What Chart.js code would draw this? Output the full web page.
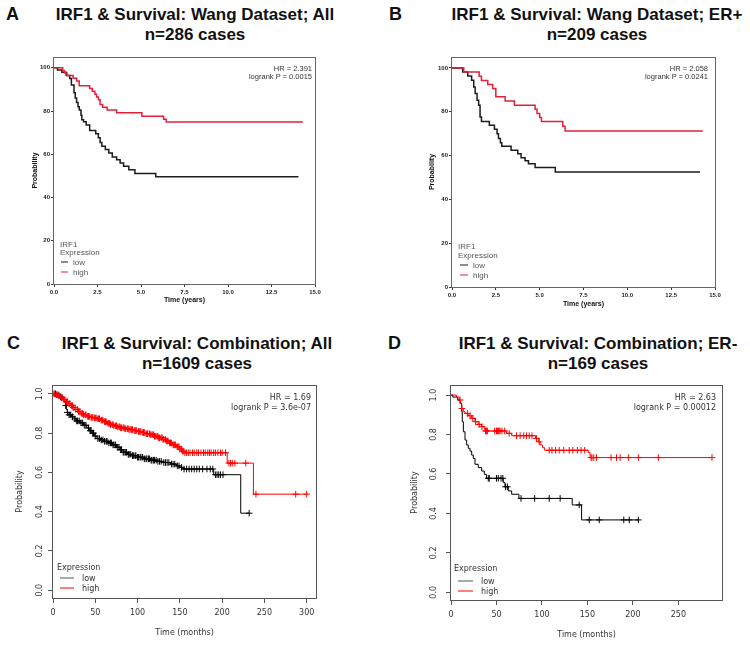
<!DOCTYPE html>
<html><head><meta charset="utf-8">
<script src="https://cdn.jsdelivr.net/npm/chart.js@4/dist/chart.umd.min.js"></script>
<style>
body{margin:0;width:750px;height:645px;position:relative;background:#fff;overflow:hidden;font-family:"Liberation Sans",Arial,sans-serif;}
.t{position:absolute;white-space:nowrap;}
.ttl{position:absolute;width:400px;text-align:center;font-weight:bold;font-size:17px;line-height:20px;color:#111;}
.let{position:absolute;font-weight:bold;font-size:18px;line-height:20px;color:#111;}
canvas{position:absolute;}
</style></head><body>
<div class="let" style="left:6px;top:4px">A</div>
<div class="ttl" style="left:-5px;top:5px">IRF1 &amp; Survival: Wang Dataset; All<br>n=286 cases</div>
<div class="let" style="left:389px;top:4px">B</div>
<div class="ttl" style="left:397px;top:5px">IRF1 &amp; Survival: Wang Dataset; ER+<br>n=209 cases</div>
<div class="let" style="left:7px;top:333px">C</div>
<div class="ttl" style="left:-3px;top:334px">IRF1 &amp; Survival: Combination; All<br>n=1609 cases</div>
<div class="let" style="left:388px;top:333px">D</div>
<div class="ttl" style="left:398px;top:334px">IRF1 &amp; Survival: Combination; ER-<br>n=169 cases</div>
<canvas id="cA"></canvas><canvas id="cB"></canvas><canvas id="cC"></canvas><canvas id="cD"></canvas>
<script>
// ---- Panel A (Wang, All) : time in years, survival in %
const aLowT  = [0,0.2,0.45,0.7,0.9,1.0,1.15,1.22,1.3,1.38,1.45,1.55,1.6,1.7,1.85,2.05,2.4,2.55,2.65,2.75,2.95,3.15,3.35,3.6,3.8,4.0,4.3,4.65,5.85,14.05];
const aLowS  = [100,99,98,96.5,95,92,88.5,86,84,82,80.5,78,76,75,73.5,71,69.5,67.7,65.5,63.7,62.2,60.6,58.8,57.5,56,54.5,52.9,51.1,49.6,49.6];
const aHighT = [0,0.5,0.6,0.75,1.1,1.3,1.45,2.05,2.2,2.35,2.45,2.55,2.65,2.8,3.05,3.6,5.05,6.3,6.45,14.3];
const aHighS = [100,98.8,97.6,96.4,95.2,93.9,91.7,90.4,89.1,87.8,86.5,85.2,83.0,81.8,80.5,79.2,77.6,76.2,74.9,74.9];
// ---- Panel B (Wang, ER+)
const bLowT  = [0,0.61,0.9,1.12,1.24,1.32,1.43,1.52,1.6,1.68,2.13,2.42,2.57,2.65,2.76,2.84,3.37,3.75,3.94,4.17,4.36,4.74,5.89,14.15];
const bLowS  = [100,98.2,96.3,94.4,91.3,88.3,85.2,83.0,77.6,75.6,73.8,72.0,70.0,67.8,65.9,64.2,62.4,60.8,59.0,57.6,56.3,54.6,52.5,52.5];
const bHighT = [0,0.67,1.55,1.68,2.04,2.32,2.5,3.03,3.56,4.74,4.85,5.0,5.1,6.32,6.45,14.3];
const bHighS = [100,98.1,96.2,94.3,92.5,90.6,86.8,84.9,83.0,81.1,79.2,77.4,75.5,73.4,71.2,71.2];
// ---- Panel C (Combination, All) : time in months, survival probability
const cLowT  = [0,4,8,11,13,15,16,17,19,22,25,28,32,36,40,43,46,49,52,56,60,65,70,75,79,83,88,93,100,107,115,123,131,139,146,150,153,190,222,232];
const cLowS  = [1.0,0.995,0.985,0.975,0.96,0.94,0.92,0.905,0.893,0.883,0.872,0.862,0.852,0.84,0.826,0.812,0.80,0.785,0.772,0.765,0.758,0.75,0.74,0.728,0.715,0.702,0.692,0.685,0.677,0.669,0.662,0.656,0.65,0.642,0.633,0.625,0.617,0.588,0.392,0.392];
const cHighT = [0,3,6,9,12,15,18,21,24,27,30,33,36,40,44,48,52,56,60,64,68,72,76,80,85,90,95,100,105,110,115,120,125,130,134,138,142,146,150,153,155,206,237,300];
const cHighS = [1.0,0.995,0.99,0.98,0.97,0.96,0.95,0.94,0.93,0.92,0.91,0.90,0.893,0.885,0.88,0.877,0.873,0.866,0.858,0.85,0.843,0.837,0.832,0.827,0.822,0.818,0.813,0.808,0.803,0.797,0.792,0.784,0.776,0.768,0.76,0.75,0.74,0.73,0.718,0.708,0.70,0.647,0.489,0.489];
const cLowCens  = [3,6,9,15,17,19,21,23,26,28,29,31,33,35,37,39,42,44,45,47,48,50,53,55,57,59,61,63,64,66,68,69,71,72,74,76,78,80,81,83,84,86,87,89,90,92,94,95,97,98,100,101,103,104,106,108,110,111,113,114,116,117,119,120,122,124,126,128,131,133,135,137,140,142,144,147,149,152,155,158,161,164,167,170,173,177,182,186,189,192,194,196,198,201,232];
const cHighCens = [1,2,4,5,7,8,10,11,13,14,16,17,19,20,22,23,24,26,27,29,30,31,32,34,35,36,38,39,41,42,43,45,46,47,49,50,51,53,54,55,57,58,59,61,62,63,65,66,67,68,70,71,72,74,75,76,78,79,80,81,83,84,85,86,88,89,90,92,93,94,96,97,98,99,101,102,103,104,106,107,108,110,111,112,114,115,116,118,119,120,121,123,124,125,126,128,129,130,131,133,134,135,136,138,139,140,142,143,144,145,147,148,149,150,152,153,154,156,158,160,162,165,167,170,172,175,178,180,183,185,187,190,192,195,198,200,204,208,210,212,215,228,240,287,300];
// ---- Panel D (Combination, ER-)
const dLowT  = [0,2,7.3,9.9,11.7,12.4,13.6,15.4,17.2,19,20.9,22.7,24.5,26.4,30,33.7,36.6,39,57.5,59.3,63,66.7,74.7,133.3,143.6,206];
const dLowS  = [1.0,0.99,0.975,0.958,0.916,0.865,0.814,0.772,0.747,0.73,0.716,0.696,0.679,0.649,0.632,0.615,0.598,0.578,0.557,0.535,0.514,0.497,0.476,0.443,0.367,0.367];
const dHighT = [0,6,9,10.5,11.7,13.6,15.4,19,22.7,26.4,30,33.7,36.6,38,61,66.7,93,96,98,100.7,103,151,153,287];
const dHighS = [1.0,0.99,0.975,0.958,0.932,0.916,0.907,0.895,0.882,0.865,0.851,0.84,0.826,0.818,0.806,0.794,0.78,0.763,0.747,0.733,0.72,0.708,0.683,0.683];
const dLowCens  = [41,42,50,52,55,57,60,62,77,92,108,120,141,152,163,190,196,206];
const dHighCens = [10,12,18,21,24,27,31,34,38,39,40,48,50,51,52,53,54,56,59,64,72,76,80,83,86,89,94,97,108,111,115,119,124,130,134,139,143,147,154,155,157,160,176,182,186,195,206,228,287];
// ---- tick values
const abYTicks = [0,20,40,60,80,100];
const abXTicks = [0,2.5,5,7.5,10,12.5,15];
const cdYTicks = [0,0.2,0.4,0.6,0.8,1.0];
const cXTicks  = [0,50,100,150,200,250,300];
const dXTicks  = [0,50,100,150,200,250];

function pts(T,S){return T.map((t,i)=>({x:t,y:S[i]}));}
function stepAt(T,S,t){let v=S[0];for(let i=0;i<T.length;i++){if(T[i]<=t)v=S[i];}return v;}
function cens(T,S,C){return C.map(c=>({x:c,y:stepAt(T,S,c)}));}

const framePlugin={id:'frame',beforeDatasetsDraw(chart,args,opts){const {ctx,chartArea:a}=chart;ctx.save();ctx.strokeStyle=opts.color||'#555';ctx.lineWidth=1;ctx.strokeRect(Math.round(a.left)-0.5,Math.round(a.top)+0.5,Math.round(a.right-a.left)+1,Math.round(a.bottom-a.top));ctx.restore();}};

function makeChart(id,box,area,o){
  const cv=document.getElementById(id);
  cv.width=box.w;cv.height=box.h;
  Object.assign(cv.style,{left:box.x+'px',top:box.y+'px',width:box.w+'px',height:box.h+'px'});
  const yW=area.l-box.x, padTop=area.t-box.y, padRight=box.x+box.w-area.r, xH=box.y+box.h-area.b;
  new Chart(cv,{type:'scatter',data:{datasets:o.datasets},
    options:{responsive:false,animation:false,events:[],
      layout:{padding:{top:padTop,right:padRight,left:0,bottom:0}},
      plugins:{legend:{display:false},tooltip:{enabled:false},frame:{color:o.frameColor}},
      scales:{
        x:{type:'linear',min:o.xMin,max:o.xMax,
          afterBuildTicks:s=>{s.ticks=o.xTicks.map(v=>({value:v}));},
          afterFit:s=>{s.height=xH;},
          grid:{drawOnChartArea:false,drawTicks:true,tickLength:o.tl,color:o.tickColor,lineWidth:1},
          border:{display:false},
          ticks:{callback:o.xFmt,font:o.tickFont,color:o.tickTextColor,padding:o.xPad,maxRotation:0,minRotation:0,autoSkip:false},
          title:{display:true,text:o.xTitle,font:o.titleFont,color:o.titleColor,padding:{top:0,bottom:o.xTitlePad}}},
        y:{type:'linear',min:o.yMin,max:o.yMax,
          afterBuildTicks:s=>{s.ticks=o.yTicks.map(v=>({value:v}));},
          afterFit:s=>{s.width=yW;},
          grid:{drawOnChartArea:false,drawTicks:true,tickLength:o.tl,color:o.tickColor,lineWidth:1},
          border:{display:false},
          ticks:{callback:o.yFmt,font:o.tickFont,color:o.tickTextColor,padding:o.yPad,minRotation:o.yRot,maxRotation:o.yRot,crossAlign:o.yRot?'center':'near',autoSkip:false},
          title:{display:true,text:'Probability',font:o.titleFont,color:o.titleColor,padding:{top:o.yTitlePad,bottom:0}}}
      }},
    plugins:[framePlugin]});
}
function line(data,color,w,order){return {data,showLine:true,stepped:true,borderColor:color,borderWidth:w,pointRadius:0,fill:false,order};}
function marks(data,color,order){return {data,showLine:false,pointStyle:'cross',pointRadius:3.3,borderColor:color,borderWidth:1,backgroundColor:color,order};}

const RED_AB='rgb(226,32,58)', BLK_AB='#1c1c1c';
const abCommon={xMin:0,xMax:15,yMin:0,yMax:105,xTicks:abXTicks,yTicks:abYTicks,
  xFmt:v=>v.toFixed(1),yFmt:v=>String(v),tl:3,tickColor:'#333',tickTextColor:'#222',
  tickFont:{family:'"Liberation Sans", Arial, sans-serif',size:6,weight:'bold'},
  titleFont:{family:'"Liberation Sans", Arial, sans-serif',size:7,weight:'bold'},titleColor:'#111',
  xPad:1.5,yPad:1,yRot:0,xTitle:'Time (years)',frameColor:'#666'};
makeChart('cA',{x:0,y:45,w:335,h:265},{l:54,t:57,r:315,b:284},Object.assign({},abCommon,{
  yTitlePad:30.5,xTitlePad:5.5,
  datasets:[line(pts(aHighT,aHighS),RED_AB,1.5,1),line(pts(aLowT,aLowS),BLK_AB,1.5,2)]}));
makeChart('cB',{x:400,y:45,w:335,h:268},{l:452,t:57,r:715,b:287},Object.assign({},abCommon,{
  yTitlePad:28,xTitlePad:5,
  datasets:[line(pts(bHighT,bHighS),RED_AB,1.5,1),line(pts(bLowT,bLowS),BLK_AB,1.5,2)]}));

const cdCommon={yMin:-0.04,yMax:1.045,yTicks:cdYTicks,xFmt:v=>String(v),yFmt:v=>v.toFixed(1),tl:5,
  tickColor:'#555',tickTextColor:'#333',
  tickFont:{family:'"DejaVu Sans", sans-serif',size:8},titleFont:{family:'"DejaVu Sans", sans-serif',size:8},
  titleColor:'#333',xPad:5,yRot:90,xTitle:'Time (months)',frameColor:'#555'};
makeChart('cC',{x:0,y:370,w:335,h:275},{l:53,t:385,r:316,b:598},Object.assign({},cdCommon,{
  xMin:0,xMax:311,xTicks:cXTicks,yPad:2,yTitlePad:14.7,xTitlePad:7.7,
  datasets:[line(pts(cHighT,cHighS),'#ff0000',1,1),marks(cens(cHighT,cHighS,cHighCens),'#ff0000',1),
            line(pts(cLowT,cLowS),'#000',1,2),marks(cens(cLowT,cLowS,cLowCens),'#000',2)]}));
makeChart('cD',{x:400,y:370,w:345,h:275},{l:451,t:385,r:722,b:600},Object.assign({},cdCommon,{
  yMin:-0.039,yMax:1.051,xMin:0,xMax:298,xTicks:dXTicks,yPad:5.6,yTitlePad:10.2,xTitlePad:5.7,
  datasets:[line(pts(dHighT,dHighS),'#ff0000',1,1),marks(cens(dHighT,dHighS,dHighCens),'#ff0000',1),
            line(pts(dLowT,dLowS),'#000',1,2),marks(cens(dLowT,dLowS,dLowCens),'#000',2)]}));

// ---- annotations and legends (HTML text)
function txt(x,cy,html,css,right){const d=document.createElement('div');d.className='t';d.innerHTML=html;
  d.style.cssText+=css+';top:'+cy+'px;transform:translateY(-50%);'+(right?'right:'+(750-x)+'px;text-align:right;':'left:'+x+'px;');
  document.body.appendChild(d);return d;}
const abF='font-family:"Liberation Sans",Arial,sans-serif;color:#333;';
const cdF='font-family:"DejaVu Sans",sans-serif;color:#333;font-size:8px;';
txt(312,67.5,'HR = 2.391',abF+'font-size:7.5px',true);
txt(312,75.5,'logrank P = 0.0015',abF+'font-size:7.5px',true);
txt(708,67.7,'HR = 2.058',abF+'font-size:7.5px',true);
txt(708,75.5,'logrank P = 0.0241',abF+'font-size:7.5px',true);
txt(311,396.7,'HR = 1.69',cdF,true);
txt(311,406.7,'logrank P = 3.6e-07',cdF,true);
txt(716,396.7,'HR = 2.63',cdF,true);
txt(716,406.7,'logrank P = 0.00012',cdF,true);
function legItem(x,cy,lineW,gap,color,lw,label,css){
  txt(x,cy,'<span style="display:inline-block;vertical-align:middle;width:'+lineW+'px;height:0;border-top:'+lw+'px solid '+color+';margin-right:'+gap+'px"></span>'+label,css);}
const abL=abF+'font-size:8px;color:#555';
txt(60,243.5,'IRF1',abL); txt(60,252,'Expression',abL);
legItem(61,262,7,5,BLK_AB,1.3,'low',abL); legItem(61,272,7,5,RED_AB,1.3,'high',abL);
txt(458,246,'IRF1',abL); txt(458,255,'Expression',abL);
legItem(460,265,8,5,BLK_AB,1.3,'low',abL); legItem(460,275,8,5,RED_AB,1.3,'high',abL);
txt(57,567,'Expression',cdF);
legItem(60,578,14,8,'#555',1,'low',cdF); legItem(60,588,14,8,'#ff0000',1,'high',cdF);
txt(454,568,'Expression',cdF);
legItem(458,581,15,8,'#555',1,'low',cdF); legItem(458,591,15,8,'#ff0000',1,'high',cdF);
</script>
</body></html>
